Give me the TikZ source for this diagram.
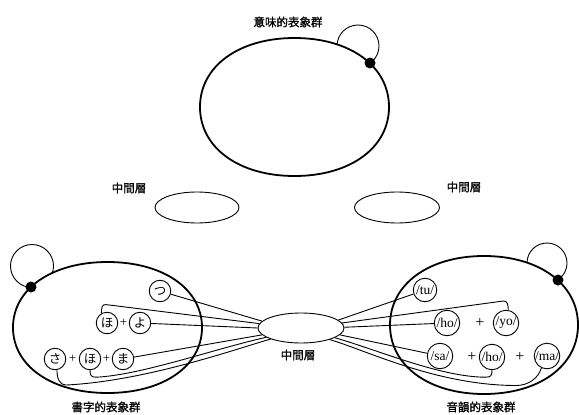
\documentclass[tikz,border=0pt]{standalone}
\usepackage{fontspec}
\setmainfont{Liberation Serif}
\newfontfamily\cjk{Noto Sans CJK JP}
\newfontfamily\cjkb[FakeBold=1.2]{Noto Sans CJK JP}
\usetikzlibrary{calc,shapes.geometric}
\newcommand\drawblob[2]{%
  \draw[blobline] (#1.east)
    .. controls ($(#1.east)!#2!(#1.north east)$) and ($(#1.north)!#2!(#1.north east)$) .. (#1.north)
    .. controls ($(#1.north)!#2!(#1.north west)$) and ($(#1.west)!#2!(#1.north west)$) .. (#1.west)
    .. controls ($(#1.west)!#2!(#1.south west)$) and ($(#1.south)!#2!(#1.south west)$) .. (#1.south)
    .. controls ($(#1.south)!#2!(#1.south east)$) and ($(#1.east)!#2!(#1.south east)$) .. (#1.east) -- cycle;}
\begin{document}
\begin{tikzpicture}[x=1pt,y=-1pt,
  blobnode/.style={rectangle,draw=none,inner sep=0pt,outer sep=0pt},
  blobline/.style={line width=1.8pt,fill=white},
  midell/.style={ellipse,draw,line width=0.9pt,fill=white,inner sep=0pt},
  kana/.style={circle,draw,line width=0.9pt,fill=white,minimum size=21.5pt,inner sep=0pt,font=\cjk\fontsize{12.5}{12.5}\selectfont},
  phon/.style={circle,draw,line width=0.9pt,fill=white,minimum size=25.5pt,inner sep=0pt,font=\fontsize{13.5}{13.5}\selectfont},
  plussign/.style={inner sep=0pt,font=\fontsize{13}{13}\selectfont},
  bigplus/.style={inner sep=0pt,font=\fontsize{16}{16}\selectfont},
  labtext/.style={inner sep=0pt,font=\cjkb\fontsize{11.5}{13}\selectfont},
  conn/.style={line width=0.9pt},
  loopline/.style={line width=0.9pt},
  blackdot/.style={circle,fill=black,draw=none,minimum size=11pt,inner sep=0pt}]
\useasboundingbox (0,0) rectangle (579,415);

% self loops (drawn first, hidden inside the blobs)
\coordinate (cT) at (358,46);
\coordinate (cL) at (32,266);
\coordinate (cR) at (547,263);
\draw[loopline] (cT) circle (21);
\draw[loopline] (cL) circle (21.5);
\draw[loopline] (cR) circle (20);

% big groups
\node[blobnode,minimum width=189pt,minimum height=138pt] (T) at (294.5,107) {};
\node[blobnode,minimum width=189pt,minimum height=131pt] (L) at (107.5,327.5) {};
\node[blobnode,minimum width=188pt,minimum height=138pt] (R) at (484,325) {};
\drawblob{T}{0.59}
\drawblob{L}{0.59}
\drawblob{R}{0.59}

% middle layers
\node[midell,minimum width=84pt,minimum height=31pt] (ML) at (197,207.5) {};
\node[midell,minimum width=85pt,minimum height=31pt] (MR) at (397,207.5) {};
\node[midell,minimum width=86pt,minimum height=30pt] (M) at (301,328) {};

% left circles
\node[kana] (tsu) at (160,291) {つ};
\node[kana] (ho1) at (107,323) {ほ};
\node[plussign] (lp1) at (123.5,323) {+};
\node[kana] (yo) at (140,323) {よ};
\node[kana] (sa) at (55,359) {さ};
\node[plussign] (lp2) at (72.5,359) {+};
\node[kana] (ho2) at (90,359) {ほ};
\node[plussign] (lp3) at (106.5,359) {+};
\node[kana] (ma) at (123,359) {ま};

% right circles
\node[phon,minimum size=23.5pt] (tu) at (425,290) {/tu/};
\node[phon] (hoR1) at (447,323) {/ho/};
\node[bigplus] (rp1) at (480,323) {+};
\node[phon] (yoR) at (506,323) {/yo/};
\node[phon] (saR) at (440,356) {/sa/};
\node[bigplus] (rp2) at (472,357) {+};
\node[phon] (hoR2) at (492,357) {/ho/};
\node[bigplus] (rp3) at (520,357) {+};
\node[phon] (maR) at (547,356) {/ma/};

% connectors, left
\draw[conn] (tsu) -- (M.170);
\draw[conn] (ho1.120) .. controls +(0,-5) and +(-4,-0.5) .. ++(4.5,-8.7) -- (M.174);
\draw[conn] (yo) -- (M.180);
\draw[conn] (ma) -- (M.190);
\draw[conn] (ho2.south) .. controls +(0,5) and +(-5,0) .. ++(6,7)
  .. controls +(45,-2) and +(-50,11) .. (M.195);
\draw[conn] (sa.-80) .. controls +(0,9) and +(-6,0) .. ++(9,15)
  .. controls +(80,-4) and +(-35,10) .. (M.200);

% connectors, right
\draw[conn] (tu) -- (M.12);
\draw[conn] (yoR.80) .. controls +(0,-5) and +(4,-0.5) .. ++(-5,-9) -- (M.7);
\draw[conn] (hoR1) -- (M.1);
\draw[conn] (saR) -- (M.-10);
\draw[conn] (hoR2.south) .. controls +(0,5) and +(5,0) .. ++(-6,7)
  .. controls +(-45,0) and +(45,13) .. (M.-16);
\draw[conn] (maR.-115) .. controls +(-3,10) and +(12,0) .. ++(-25,17.5)
  .. controls +(-80,0) and +(35,10) .. (M.-22);

% dots on loops
\node[blackdot] (dT) at (370,63) {};
\node[blackdot] (dL) at (31,287) {};
\node[blackdot] (dR) at (558,280) {};

% labels
\node[labtext] (labT) at (288,22) {意味的表象群};
\node[labtext] (labML) at (129,188) {中間層};
\node[labtext] (labMR) at (464,187) {中間層};
\node[labtext] (labM) at (298,355) {中間層};
\node[labtext] (labL) at (106,407) {書字的表象群};
\node[labtext] (labR) at (481,407) {音韻的表象群};
\end{tikzpicture}
\end{document}
